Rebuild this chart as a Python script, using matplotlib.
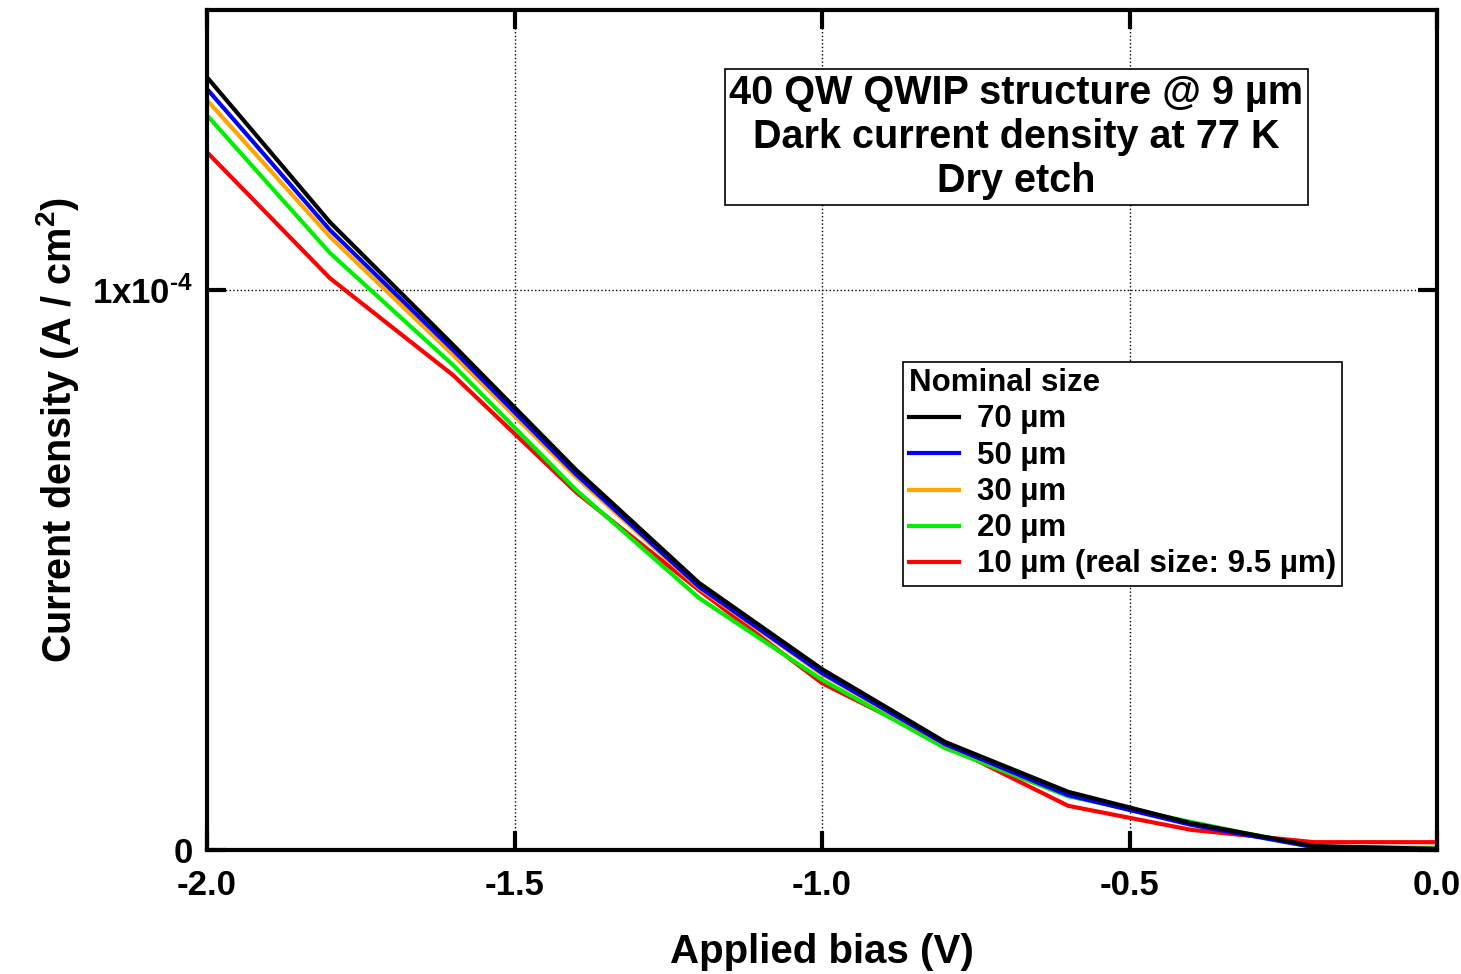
from matplotlib import pyplot as plt
import numpy as np

plt.rcParams['font.family'] = ['Liberation Sans', 'DejaVu Sans']
plt.rcParams['font.weight'] = 'bold'
plt.rcParams['axes.labelweight'] = 'bold'
plt.rcParams['mathtext.fontset'] = 'custom'
plt.rcParams['mathtext.rm'] = 'Liberation Sans:bold'
plt.rcParams['mathtext.bf'] = 'Liberation Sans:bold'
plt.rcParams['mathtext.default'] = 'bf'

# bias points (V) and dark current density (A/cm^2) per mesa size
bias = [-2.0, -1.8, -1.6, -1.4, -1.2, -1.0, -0.8, -0.6, -0.4, -0.2, 0.0]
j70 = [1.380e-4, 1.121e-4, 0.902e-4, 0.679e-4, 0.477e-4, 0.323e-4, 0.193e-4, 0.104e-4, 0.048e-4, 0.007e-4, 0.002e-4]
j50 = [1.359e-4, 1.107e-4, 0.893e-4, 0.671e-4, 0.470e-4, 0.316e-4, 0.189e-4, 0.098e-4, 0.045e-4, 0.005e-4, 0.000e-4]
j30 = [1.339e-4, 1.095e-4, 0.884e-4, 0.666e-4, 0.468e-4, 0.314e-4, 0.188e-4, 0.098e-4, 0.047e-4, 0.006e-4, 0.002e-4]
j20 = [1.312e-4, 1.066e-4, 0.866e-4, 0.643e-4, 0.450e-4, 0.304e-4, 0.182e-4, 0.096e-4, 0.050e-4, 0.005e-4, 0.004e-4]
j10 = [1.246e-4, 1.021e-4, 0.848e-4, 0.639e-4, 0.464e-4, 0.298e-4, 0.188e-4, 0.079e-4, 0.036e-4, 0.014e-4, 0.014e-4]

labels = ['70 µm', '50 µm', '30 µm', '20 µm', '10 µm (real size: 9.5 µm)']
colors = ['black', '#0000ff', '#ffa500', '#00ee00', '#ff0000']
series = [j70, j50, j30, j20, j10]

fig = plt.figure(figsize=(14.61, 9.74), dpi=100)
ax = fig.add_axes([0.1417, 0.1273, 0.8419, 0.8624])

# draw smallest first so the 70 µm curve sits on top
for y, c, lab in list(zip(series, colors, labels))[::-1]:
    ax.plot(bias, y, color=c, linewidth=3, label=lab)

ax.set_xlim(-2.0, 0.0)
ax.set_ylim(0, 1.5e-4)
ax.set_xticks([-2.0, -1.5, -1.0, -0.5, 0.0])
ax.set_xticklabels(['-2.0', '-1.5', '-1.0', '-0.5', '0.0'])
ax.set_yticks([0, 1e-4])
ax.set_yticklabels(['0', r'1x10$^{\text{-4}}$'])
ax.tick_params(direction='in', length=14, width=3, labelsize=25, pad=10,
               top=True, right=True)
ax.tick_params(axis='x', pad=14)
ax.grid(True, linestyle=':', color='black', linewidth=1)
for s in ax.spines.values():
    s.set_linewidth(3)

ax.set_xlabel('Applied bias (V)', fontsize=29, labelpad=22)
ax.set_ylabel('Current density (A / cm$^2$)', fontsize=28.5, labelpad=8)

ax.text(0.658, 0.849, '40 QW QWIP structure @ 9 µm\nDark current density at 77 K\nDry etch',
        transform=ax.transAxes, ha='center', va='center', fontsize=28.5,
        linespacing=1.2,
        bbox=dict(boxstyle='square,pad=0.12', facecolor='white', edgecolor='black', linewidth=1.2))

h, l = ax.get_legend_handles_labels()
leg = ax.legend(h[::-1], l[::-1], title='Nominal size', loc='upper left',
                bbox_to_anchor=(0.566, 0.581), fontsize=22.5, title_fontsize=22.5,
                alignment='left', fancybox=False, framealpha=1, edgecolor='black',
                handlelength=1.6, handletextpad=0.55, labelspacing=0.2,
                borderpad=0.2, borderaxespad=0, handleheight=0.6)
leg.get_frame().set_linewidth(1.2)
leg.get_title().set_fontweight('bold')
for ln in leg.get_lines():
    ln.set_linewidth(3)

fig.savefig('out.png', dpi=100)
